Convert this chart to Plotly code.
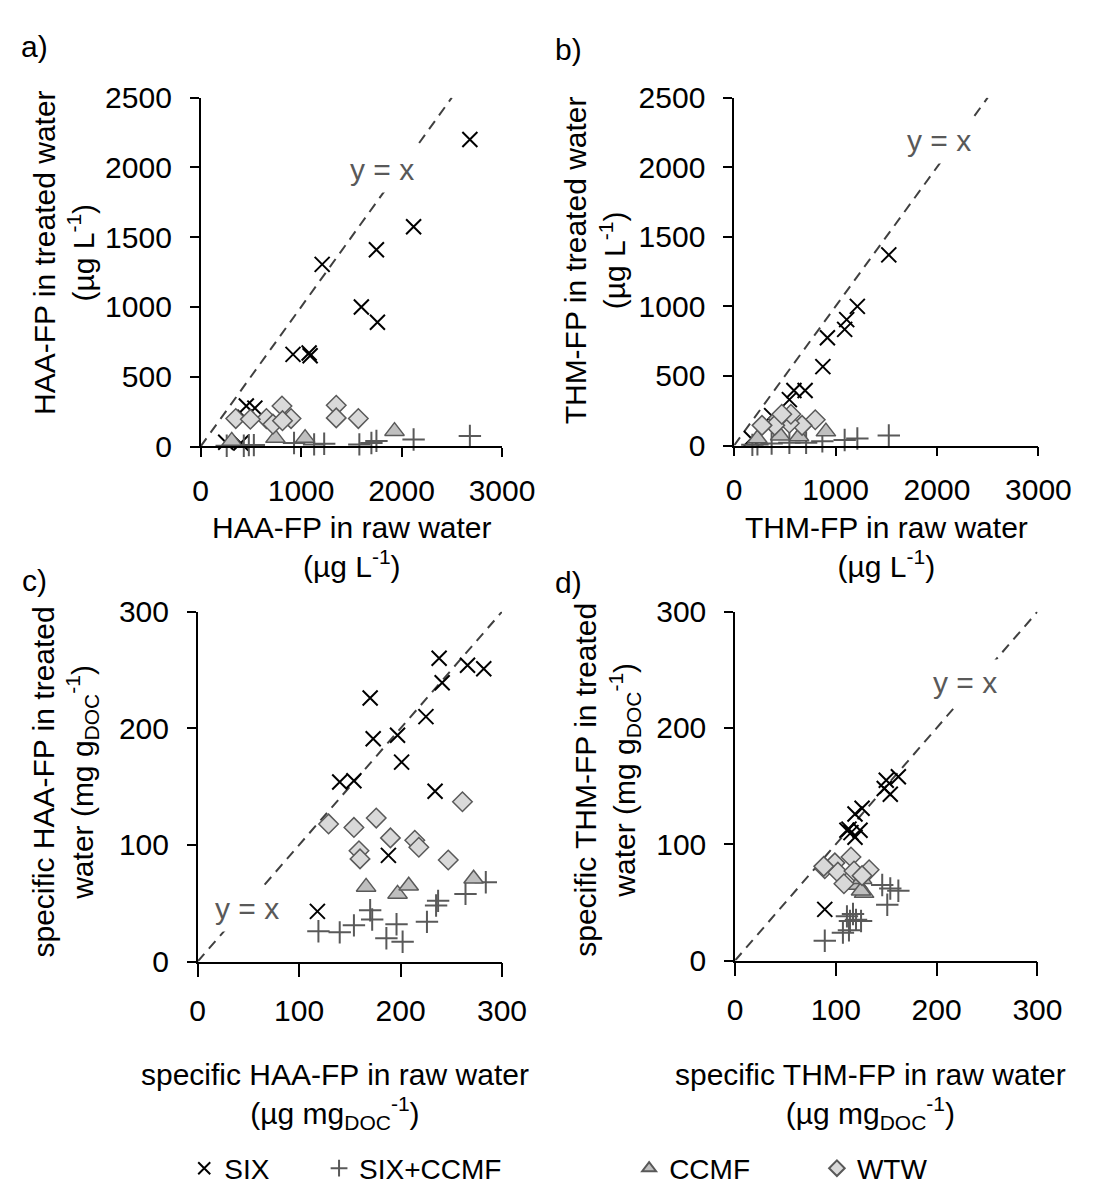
import plotly.graph_objects as go

# ---------------- data ----------------
# panel a: HAA-FP (µg/L), raw vs treated
a_six_x = [2680, 2120, 1750, 1210, 1600, 1760, 920, 1080, 1090, 455, 540, 440, 250, 400]
a_six_y = [2200, 1575, 1410, 1305, 1000, 890, 660, 670, 650, 290, 275, 210, 30, 25]
a_sc_x = [2680, 2120, 1750, 1700, 1580, 1230, 1130, 930, 530, 480, 430, 260]
a_sc_y = [75, 50, 40, 25, 15, 20, 15, 25, 10, 10, 5, 5]
a_cc_x = [1930, 1040, 745, 310]
a_cc_y = [110, 60, 60, 40]
a_wtw_x = [810, 1350, 1350, 1570, 900, 655, 720, 815, 350, 495]
a_wtw_y = [290, 295, 205, 200, 200, 200, 160, 185, 200, 195]

# panel b: THM-FP (µg/L)
b_six_x = [1525, 1215, 1110, 1090, 920, 875, 700, 590, 545, 370, 170]
b_six_y = [1370, 1000, 905, 835, 775, 567, 395, 395, 330, 215, 50]
b_sc_x = [1525, 1215, 1090, 870, 710, 545, 370, 230, 180]
b_sc_y = [72, 50, 40, 30, 20, 20, 15, 8, 5]
b_cc_x = [905, 640, 455, 230]
b_cc_y = [100, 65, 70, 50]
b_wtw_x = [800, 670, 545, 435, 400, 275, 560, 470]
b_wtw_y = [185, 145, 160, 195, 145, 145, 225, 225]

# panel c: specific HAA-FP
c_six_x = [238, 266, 282, 241, 225, 170, 173, 197, 201, 140, 154, 234, 188, 118]
c_six_y = [260, 254, 251, 239, 210, 226, 191, 194, 171, 154, 155, 146, 91, 43]
c_sc_x = [284, 264, 237, 235, 226, 196, 186, 202, 170, 172, 154, 140, 119]
c_sc_y = [68, 58, 52, 48, 34, 32, 20, 17, 44, 36, 31, 25, 26]
c_cc_x = [166, 197, 208, 272]
c_cc_y = [64, 58, 65, 71]
c_wtw_x = [261, 129, 154, 176, 190, 214, 218, 159, 160, 247]
c_wtw_y = [137, 118, 115, 123, 106, 104, 98, 95, 88, 87]

# panel d: specific THM-FP
d_six_x = [162, 150, 154, 148, 126, 119, 113, 111, 124, 119, 115, 89]
d_six_y = [158, 155, 143, 148, 131, 126, 113, 112, 112, 106, 110, 44]
d_sc_x = [89, 107, 113, 111, 117, 120, 125, 114, 146, 154, 162, 151]
d_sc_y = [17, 24, 26, 38, 40, 35, 34, 34, 65, 62, 60, 48]
d_cc_x = [122, 128, 125, 126]
d_cc_y = [65, 58, 60, 70]
d_wtw_x = [115, 99, 89, 102, 118, 133, 126, 108, 88]
d_wtw_y = [89, 84, 79, 76, 77, 78, 73, 66, 81]

series_names = ["SIX", "SIX+CCMF", "CCMF", "WTW"]
conc_range_x = [0, 3000]
conc_range_y = [0, 2500]
spec_range = [0, 300]

FONT = "Liberation Sans, Arial, sans-serif"
W, H = 1108, 1202

panels = [
    dict(name="a", six=(a_six_x, a_six_y), sc=(a_sc_x, a_sc_y), cc=(a_cc_x, a_cc_y), wtw=(a_wtw_x, a_wtw_y),
         line=[0, 2500], xr=conc_range_x, yr=conc_range_y, xd=1000, yd=500,
         px=(200, 513), py=(83, 442), lab=(1802, 1985), xtl=9, xso=8),
    dict(name="b", six=(b_six_x, b_six_y), sc=(b_sc_x, b_sc_y), cc=(b_cc_x, b_cc_y), wtw=(b_wtw_x, b_wtw_y),
         line=[0, 2500], xr=conc_range_x, yr=conc_range_y, xd=1000, yd=500,
         px=(754, 1070), py=(83, 441), lab=(2022, 2193), xtl=9, xso=8),
    dict(name="c", six=(c_six_x, c_six_y), sc=(c_sc_x, c_sc_y), cc=(c_cc_x, c_cc_y), wtw=(c_wtw_x, c_wtw_y),
         line=[0, 300], xr=spec_range, yr=spec_range, xd=100, yd=100,
         px=(197, 513), py=(612, 972), lab=(48.4, 45.8), xtl=14, xso=8),
    dict(name="d", six=(d_six_x, d_six_y), sc=(d_sc_x, d_sc_y), cc=(d_cc_x, d_cc_y), wtw=(d_wtw_x, d_wtw_y),
         line=[0, 300], xr=spec_range, yr=spec_range, xd=100, yd=100,
         px=(755, 1069), py=(612, 971), lab=(228, 239), xtl=14, xso=8),
]

styles = {
    "SIX": dict(symbol="x-thin-open", size=15, color="#000000", line=dict(color="#000000", width=2)),
    "SIX+CCMF": dict(symbol="cross-thin-open", size=16, color="#595959", line=dict(color="#595959", width=2)),
    "CCMF": dict(symbol="triangle-up", size=17, color="#BFBFBF", line=dict(color="#595959", width=1.5)),
    "WTW": dict(symbol="diamond", size=15, color="#D9D9D9", line=dict(color="#595959", width=1.5)),
}
keys = {"SIX": "six", "SIX+CCMF": "sc", "CCMF": "cc", "WTW": "wtw"}
legend_ids = {"SIX": "legend", "SIX+CCMF": "legend2", "CCMF": "legend3", "WTW": "legend4"}

fig = go.Figure()
layout = dict(width=W, height=H, margin=dict(l=0, r=0, t=0, b=0),
              paper_bgcolor="white", plot_bgcolor="white",
              font=dict(family=FONT, size=30, color="black"), annotations=[])

for i, p in enumerate(panels):
    sfx = "" if i == 0 else str(i + 1)
    xa, ya = "x" + sfx, "y" + sfx
    # y = x reference line
    fig.add_trace(go.Scatter(x=p["line"], y=p["line"], mode="lines", xaxis=xa, yaxis=ya,
                             line=dict(color="#404040", width=2, dash="10px,7px"),
                             showlegend=False, hoverinfo="skip"))
    for nm in series_names:
        xs, ys = p[keys[nm]]
        st = styles[nm]
        fig.add_trace(go.Scatter(x=xs, y=ys, mode="markers", name=nm, xaxis=xa, yaxis=ya,
                                 marker=dict(symbol=st["symbol"], size=st["size"], color=st["color"], line=st["line"]),
                                 cliponaxis=False, showlegend=(i == 0), legend=legend_ids[nm]))
    axis_common = dict(showline=True, linecolor="black", linewidth=1.5, ticks="outside",
                       tickwidth=1.5, tickcolor="black", showgrid=False, zeroline=False,
                       tickfont=dict(family=FONT, size=30, color="black"), fixedrange=True)
    layout["xaxis" + sfx] = dict(axis_common, domain=[p["px"][0] / W, p["px"][1] / W], range=p["xr"],
                                 dtick=p["xd"], tick0=0, anchor=ya, ticklen=p["xtl"], ticklabelstandoff=p["xso"])
    layout["yaxis" + sfx] = dict(axis_common, domain=[1 - p["py"][1] / H, 1 - p["py"][0] / H], range=p["yr"],
                                 dtick=p["yd"], tick0=0, anchor=xa, ticklen=9, ticklabelstandoff=12)
    layout["annotations"].append(dict(x=p["lab"][0], y=p["lab"][1], xref=xa, yref=ya, text="y = x",
                                      showarrow=False, font=dict(family=FONT, size=30, color="#595959"),
                                      bgcolor="white", borderpad=6))

def ann(x, y, text, angle=0, xanchor="center"):
    layout["annotations"].append(dict(x=x / W, y=1 - y / H, xref="paper", yref="paper", text=text,
                                      showarrow=False, textangle=angle, xanchor=xanchor, yanchor="middle",
                                      font=dict(family=FONT, size=30, color="black")))

# panel letters
ann(28, 30, "a)")
ann(582, 33, "b)")
ann(28, 580, "c)")
ann(582, 582, "d)")

# axis titles
ann(58, 242, "HAA-FP in treated water<br>(µg L<sup>-1</sup>)", angle=-90)
ann(357, 545, "HAA-FP in raw water<br>(µg L<sup>-1</sup>)")
ann(610, 250, "THM-FP in treated water<br>(µg L<sup>-1</sup>)", angle=-90)
ann(912, 545, "THM-FP in raw water<br>(µg L<sup>-1</sup>)")
ann(59, 787, "specific HAA-FP in treated<br>water (mg g<sub>DOC</sub><sup>-1</sup>)", angle=-90)
ann(340, 1110, "specific HAA-FP in raw water<br>(µg mg<sub>DOC</sub><sup>-1</sup>)")
ann(622, 785, "specific THM-FP in treated<br>water (mg g<sub>DOC</sub><sup>-1</sup>)", angle=-90)
ann(896, 1110, "specific THM-FP in raw water<br>(µg mg<sub>DOC</sub><sup>-1</sup>)")

# legends (one per series, positioned along the bottom)
leg_x = {"legend": 183, "legend2": 323, "legend3": 645, "legend4": 840}
for lid, lx in leg_x.items():
    layout[lid] = dict(x=lx / W, y=1 - 1185 / H, xanchor="left", yanchor="middle",
                       bgcolor="rgba(0,0,0,0)", borderwidth=0,
                       font=dict(family=FONT, size=28, color="black"), itemsizing="constant")

fig.update_layout(**layout)
fig.write_html("out.html")
